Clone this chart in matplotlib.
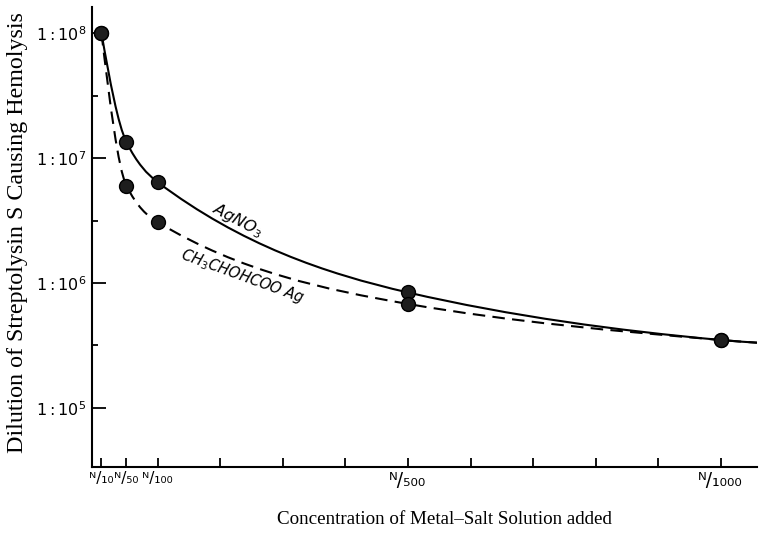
import numpy as np
import matplotlib
matplotlib.use("Agg")
import matplotlib.pyplot as plt
from matplotlib.path import Path
from matplotlib.patches import PathPatch

# concentration of metal-salt solution (N/x), x values
conc = [10, 50, 100, 500, 1000]
# dilution of streptolysin S causing hemolysis
agno3 = [1.0e8, 1.34e7, 6.4e6, 8.4e5, 3.5e5]
lactate = [1.0e8, 6.0e6, 3.06e6, 6.8e5, 3.5e5]
# both curves run on to the right edge of the axis
curve_end_x = 1058
curve_end_y = 3.33e5

xtick_vals = [10, 50, 100, 200, 300, 400, 500, 600, 700, 800, 900, 1000]
xtick_labels = ['\u1d3a/\u2081\u2080', '\u1d3a/\u2085\u2080', '\u1d3a/\u2081\u2080\u2080',
                '', '', '', '\u1d3a/\u2085\u2080\u2080', '', '', '', '',
                '\u1d3a/\u2081\u2080\u2080\u2080']
ytick_vals = [1e5, 1e6, 1e7, 1e8]
ytick_labels = [r'$1:10^{5}$', r'$1:10^{6}$', r'$1:10^{7}$', r'$1:10^{8}$']
yminor_vals = [10**5.5, 10**6.5, 10**7.5]


def smooth_path(xs, ys):
    # monotone cubic (pchip style) in x / log10(y), drawn as bezier curves
    x = np.asarray(xs, float)
    y = np.log10(np.asarray(ys, float))
    h = np.diff(x)
    d = np.diff(y) / h
    n = len(x)
    m = np.zeros(n)
    for k in range(1, n - 1):
        if d[k - 1] * d[k] > 0:
            w1 = 2 * h[k] + h[k - 1]
            w2 = h[k] + 2 * h[k - 1]
            m[k] = (w1 + w2) / (w1 / d[k - 1] + w2 / d[k])
    m[0] = ((2 * h[0] + h[1]) * d[0] - h[0] * d[1]) / (h[0] + h[1])
    if m[0] * d[0] <= 0:
        m[0] = 0
    m[-1] = ((2 * h[-1] + h[-2]) * d[-1] - h[-1] * d[-2]) / (h[-1] + h[-2])
    if m[-1] * d[-1] <= 0:
        m[-1] = 0
    verts = [(x[0], 10 ** y[0])]
    codes = [Path.MOVETO]
    for k in range(n - 1):
        t = h[k] / 3
        verts += [(x[k] + t, 10 ** (y[k] + m[k] * t)),
                  (x[k + 1] - t, 10 ** (y[k + 1] - m[k + 1] * t)),
                  (x[k + 1], 10 ** y[k + 1])]
        codes += [Path.CURVE4] * 3
    return Path(verts, codes)


fig = plt.figure(figsize=(7.61, 5.42), dpi=100)
ax = fig.add_axes([92.3 / 761, 1 - 467 / 542, (757 - 92.3) / 761, 460 / 542])
ax.set_yscale('log')
ax.set_xlim(-4.6, 1058)
ax.set_ylim(10**4.528, 10**8.208)

ax.add_patch(PathPatch(smooth_path(conc + [curve_end_x], agno3 + [curve_end_y]),
                       fill=False, lw=1.5, color='black'))
ax.add_patch(PathPatch(smooth_path(conc + [curve_end_x], lactate + [curve_end_y]),
                       fill=False, lw=1.5, color='black', linestyle=(0, (6, 3.5))))

ax.plot(conc, agno3, 'o', ms=10, mfc='#1e1e1e', mec='black', ls='none', clip_on=False, zorder=5)
ax.plot(conc, lactate, 'o', ms=10, mfc='#1e1e1e', mec='black', ls='none', clip_on=False, zorder=5)

ax.text(228, 10**6.5, r'AgNO$_3$', rotation=-28, fontsize=11.5, style='italic',
        ha='center', va='center')
ax.text(235, 10**6.056, r'CH$_3$CHOHCOO Ag', rotation=-20, fontsize=10.5, style='italic',
        ha='center', va='center')

for side in ['top', 'right']:
    ax.spines[side].set_visible(False)
for side in ['left', 'bottom']:
    ax.spines[side].set_linewidth(1.5)

ax.set_xticks(xtick_vals, labels=xtick_labels)
ax.set_yticks(ytick_vals, labels=ytick_labels)
ax.set_yticks(yminor_vals, minor=True)
ax.yaxis.set_minor_formatter(matplotlib.ticker.NullFormatter())
ax.tick_params(axis='x', direction='in', length=6.5, width=1.3, labelsize=11, pad=3)
ax.tick_params(axis='y', which='major', direction='in', length=10, width=1.3,
               labelsize=11.5, pad=4)
ax.tick_params(axis='y', which='minor', direction='in', length=4.5, width=1.3)

# the crowded labels at the left stay small, the lone ones are larger
for lab in ax.get_xticklabels()[6:]:
    lab.set_fontsize(13.5)

ax.set_xlabel('Concentration of Metal\u2013Salt Solution added',
              family='Liberation Serif', fontsize=13.7, va='center')
ax.xaxis.set_label_coords(0.53, -0.115)
ax.set_ylabel('Dilution of Streptolysin S Causing Hemolysis',
              family='Liberation Serif', fontsize=17.3, va='center')
ax.yaxis.set_label_coords(-0.113, 0.51)

fig.savefig('out.png', dpi=100)
